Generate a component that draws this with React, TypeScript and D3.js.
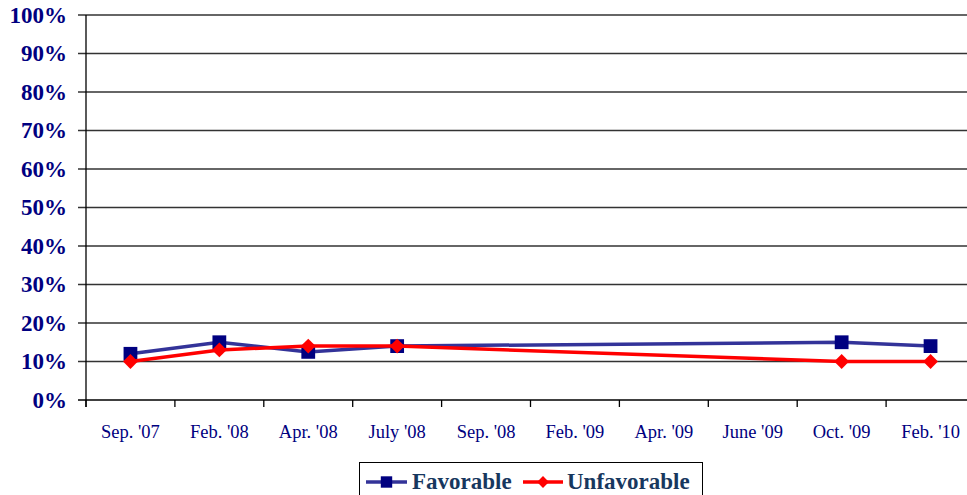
import React from "react";
import * as d3 from "d3";

const categories = [
  "Sep. '07", "Feb. '08", "Apr. '08", "July '08", "Sep. '08",
  "Feb. '09", "Apr. '09", "June '09", "Oct. '09", "Feb. '10",
];
// null = no survey in that month
const favorable = [12, 15, 12.5, 14, null, null, null, null, 15, 14];
const unfavorable = [10, 13, 14, 14, null, null, null, null, 10, 10];
const yTicks = [0, 10, 20, 30, 40, 50, 60, 70, 80, 90, 100];

const FONT = "Liberation Serif";

const left = 86, right = 975, top = 15, bottom = 400;
const x = d3.scaleBand().domain(categories).range([left, right]);
const y = d3.scaleLinear().domain([0, 100]).range([bottom, top]);
const cx = (i: number) => (x(categories[i]) as number) + x.bandwidth() / 2;

const series = [
  { name: "Favorable", values: favorable, line: "#333399", mark: "#000080", rot: 0, size: 190, lsize: 130, x0: 366, x1: 407, tx: 412 },
  { name: "Unfavorable", values: unfavorable, line: "#ff0000", mark: "#ff0000", rot: 45, size: 110, lsize: 70, x0: 523, x1: 563, tx: 567 },
];

export default function App() {
  const edges = categories.map(c => x(c) as number).concat([right]);
  return (
    <svg
      width={967}
      height={495}
      style={{ position: "absolute", left: 0, top: 0, background: "#fff", fontFamily: FONT }}
    >
      {yTicks.map(t => (
        <line key={"g" + t} x1={left - 8} x2={right} y1={y(t)} y2={y(t)}
          stroke={t === 0 ? "#000" : "#333"} strokeWidth={1.3} />
      ))}
      <line x1={left} x2={left} y1={top} y2={bottom + 7} stroke="#000" strokeWidth={1.3} />
      {yTicks.map(t => (
        <text key={"y" + t} x={67} y={y(t) + 7.5} textAnchor="end" fontWeight="bold"
          fontSize={23} fill="#000080" style={{ fontFamily: FONT }}>
          {t + "%"}
        </text>
      ))}
      {edges.map((e, i) => (
        <line key={"t" + i} x1={e} x2={e} y1={bottom} y2={bottom + 7} stroke="#000" strokeWidth={1.3} />
      ))}
      {categories.map(c => (
        <text key={c} x={(x(c) as number) + x.bandwidth() / 2} y={438} textAnchor="middle"
          fontSize={18.5} fill="#000080" style={{ fontFamily: FONT }}>
          {c}
        </text>
      ))}
      {series.map(s => {
        const pts = s.values
          .map((v, i) => ({ v, i }))
          .filter(p => p.v !== null) as { v: number; i: number }[];
        const line = d3.line<{ v: number; i: number }>().x(p => cx(p.i)).y(p => y(p.v));
        const sym = d3.symbol().type(d3.symbolSquare).size(s.size)() as string;
        return (
          <g key={s.name}>
            <path d={line(pts) as string} fill="none" stroke={s.line} strokeWidth={3.5} />
            {pts.map(p => (
              <path key={p.i} d={sym} fill={s.mark}
                transform={`translate(${cx(p.i)},${y(p.v)}) rotate(${s.rot})`} />
            ))}
          </g>
        );
      })}
      <rect x={359.5} y={462.5} width={343} height={40} fill="#fff" stroke="#000" strokeWidth={1} />
      {series.map(s => (
        <g key={"l" + s.name}>
          <line x1={s.x0} x2={s.x1} y1={482} y2={482} stroke={s.line} strokeWidth={3.5} />
          <path d={d3.symbol().type(d3.symbolSquare).size(s.lsize)() as string} fill={s.mark}
            transform={`translate(${(s.x0 + s.x1) / 2},482) rotate(${s.rot})`} />
          <text x={s.tx} y={489} fontWeight="bold" fontSize={23} fill="#17375e" style={{ fontFamily: FONT }}>
            {s.name}
          </text>
        </g>
      ))}
    </svg>
  );
}
